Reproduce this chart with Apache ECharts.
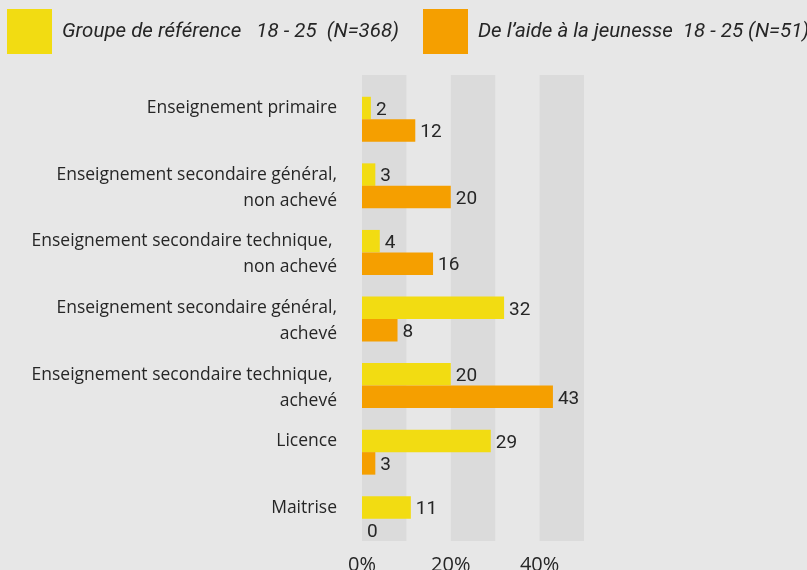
<!DOCTYPE html>
<html>
<head>
<meta charset="utf-8">
<script src="https://cdn.jsdelivr.net/npm/echarts@6/dist/echarts.min.js"></script>
<style>
  html, body { margin: 0; padding: 0; background: #e7e7e7; }
</style>
</head>
<body>
<div id="main" style="width: 807px; height: 570px"></div>
<script>
// données du graphique
var categories = [
  'Enseignement primaire',
  'Enseignement secondaire général,\nnon achevé',
  'Enseignement secondaire technique, \nnon achevé',
  'Enseignement secondaire général,\nachevé',
  'Enseignement secondaire technique, \nachevé',
  'Licence',
  'Maitrise'
]
var seriesNames = [
  'Groupe de référence   18 - 25  (N=368)',
  'De l\u2019aide à la jeunesse  18 - 25 (N=51)'
]
var groupeReference = [2, 3, 4, 32, 20, 29, 11]
var aideJeunesse = [12, 20, 16, 8, 43, 3, 0]
var xTicks = [0, 20, 40]

var textColor = '#262626'

var myChart = echarts.init(document.getElementById('main'))

var legendText = { fontFamily: 'Roboto', fontStyle: 'italic', fontSize: 20.5, color: textColor, padding: [0, 0, 0, 5] }
var valueLabel = { show: true, position: 'right', distance: 5, offset: [0, 2], fontFamily: 'Roboto', fontSize: 19, color: textColor }

var option = {
  backgroundColor: '#e7e7e7',
  animation: false,
  legend: [
    {
      left: 7,
      top: 9,
      padding: 0,
      itemWidth: 45,
      itemHeight: 45,
      icon: 'rect',
      data: [seriesNames[0]],
      textStyle: legendText
    },
    {
      left: 423,
      top: 9,
      padding: 0,
      itemWidth: 45,
      itemHeight: 45,
      icon: 'rect',
      data: [seriesNames[1]],
      textStyle: legendText
    }
  ],
  grid: [
    // grille des bandes grises + libellés
    { left: 362, width: 222, top: 75, height: 466, outerBoundsMode: 'none' },
    // grille des barres (décalée vers le bas)
    { left: 362, width: 222, top: 86, height: 466, outerBoundsMode: 'none' }
  ],
  xAxis: [
    {
      gridIndex: 0,
      type: 'value',
      min: 0,
      max: 50,
      interval: 10,
      axisLine: { show: false },
      axisTick: { show: false },
      splitLine: { show: false },
      splitArea: { show: true, areaStyle: { color: ['#dbdbdb', 'rgba(0,0,0,0)'] } },
      axisLabel: {
        margin: 14,
        fontFamily: 'Open Sans',
        fontSize: 20,
        color: textColor,
        formatter: function(v) {
          return xTicks.indexOf(v) >= 0 ? v + '%' : ''
        }
      }
    },
    {
      gridIndex: 1,
      type: 'value',
      min: 0,
      max: 50,
      show: false
    }
  ],
  yAxis: [
    {
      gridIndex: 0,
      type: 'category',
      inverse: true,
      data: categories,
      axisLine: { show: false },
      axisTick: { show: false },
      axisLabel: {
        margin: 25,
        fontFamily: 'Open Sans',
        fontSize: 17.5,
        lineHeight: 26,
        padding: [5, 0, 0, 0],
        color: textColor,
        align: 'right',
        // première ligne centrée sur la bande
        formatter: function(v) {
          return v.indexOf('\n') >= 0 ? ' \n' + v : v
        }
      }
    },
    {
      gridIndex: 1,
      type: 'category',
      inverse: true,
      data: categories,
      show: false
    }
  ],
  series: [
    {
      name: seriesNames[0],
      type: 'bar',
      xAxisIndex: 1,
      yAxisIndex: 1,
      barWidth: 22.5,
      barGap: 0,
      itemStyle: { color: '#f2dc12' },
      label: valueLabel,
      data: groupeReference
    },
    {
      name: seriesNames[1],
      type: 'bar',
      xAxisIndex: 1,
      yAxisIndex: 1,
      barWidth: 22.5,
      barGap: 0,
      itemStyle: { color: '#f59f00' },
      label: valueLabel,
      data: aideJeunesse
    }
  ]
}

myChart.setOption(option)
</script>
</body>
</html>
